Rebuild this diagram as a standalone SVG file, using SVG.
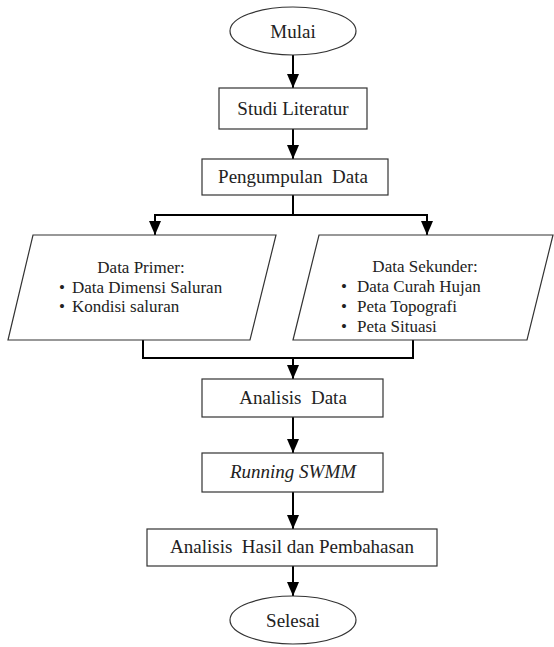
<svg xmlns="http://www.w3.org/2000/svg" width="554" height="647" viewBox="0 0 554 647">
<defs>
<marker id="ah" markerUnits="userSpaceOnUse" markerWidth="14" markerHeight="12" refX="14" refY="6" orient="auto">
<path d="M0,0 L14,6 L0,12 z" fill="#000"/>
</marker>
<style>
.shape{fill:#fff;stroke:#333;stroke-width:1.2}
.conn{fill:none;stroke:#000;stroke-width:2}
text{font-family:'Liberation Serif','Tinos','Times New Roman','DejaVu Serif',serif;fill:#222;white-space:pre}
.t{font-size:19px;text-anchor:middle}
.s{font-size:17px}
.c{text-anchor:middle}
</style>
</defs>
<rect width="554" height="647" fill="#fff"/>
<g id="connectors">
<line class="conn" x1="293" y1="55" x2="293" y2="88" marker-end="url(#ah)"/>
<line class="conn" x1="293" y1="129" x2="293" y2="159" marker-end="url(#ah)"/>
<polyline class="conn" points="293,195 293,215"/>
<polyline class="conn" points="155,215 427,215"/>
<line class="conn" x1="155" y1="214" x2="155" y2="235" marker-end="url(#ah)"/>
<line class="conn" x1="427" y1="214" x2="427" y2="235" marker-end="url(#ah)"/>
<polyline class="conn" points="143,340 143,358 413,358 413,340"/>
<line class="conn" x1="293" y1="358" x2="293" y2="379" marker-end="url(#ah)"/>
<line class="conn" x1="293" y1="417" x2="293" y2="453" marker-end="url(#ah)"/>
<line class="conn" x1="293" y1="492" x2="293" y2="529" marker-end="url(#ah)"/>
<line class="conn" x1="293" y1="566" x2="293" y2="596" marker-end="url(#ah)"/>
</g>
<g id="mulai">
<ellipse class="shape" cx="293" cy="31" rx="63" ry="24"/>
<text class="t" x="293" y="38" font-family="Liberation Serif, serif">Mulai</text>
</g>
<g id="studi">
<rect class="shape" x="219" y="88" width="148" height="41"/>
<text class="t" x="293" y="115">Studi Literatur</text>
</g>
<g id="pengumpulan">
<rect class="shape" x="202" y="159" width="186" height="36"/>
<text class="t" x="293" y="183" xml:space="preserve">Pengumpulan  Data</text>
</g>
<g id="primer">
<polygon class="shape" points="33,235 276,235 250,340 8,340"/>
<text class="s c" x="141" y="273">Data Primer:</text>
<text class="s c" x="62" y="293">•</text>
<text class="s" x="72" y="293">Data Dimensi Saluran</text>
<text class="s c" x="62" y="312">•</text>
<text class="s" x="72" y="312">Kondisi saluran</text>
</g>
<g id="sekunder">
<polygon class="shape" points="319,235 553,235 527,340 293,340"/>
<text class="s c" x="425" y="272">Data Sekunder:</text>
<text class="s c" x="344" y="292">•</text>
<text class="s" x="357" y="292">Data Curah Hujan</text>
<text class="s c" x="344" y="312">•</text>
<text class="s" x="357" y="312">Peta Topografi</text>
<text class="s c" x="344" y="332">•</text>
<text class="s" x="357" y="332">Peta Situasi</text>
</g>
<g id="analisis-data">
<rect class="shape" x="202" y="379" width="181" height="38"/>
<text class="t" x="293" y="404" xml:space="preserve">Analisis  Data</text>
</g>
<g id="running">
<rect class="shape" x="202" y="453" width="181" height="39"/>
<text class="t" x="293" y="478" font-style="italic">Running SWMM</text>
</g>
<g id="analisis-hasil">
<rect class="shape" x="147" y="529" width="290" height="37"/>
<text class="t" x="292" y="553" xml:space="preserve">Analisis  Hasil dan Pembahasan</text>
</g>
<g id="selesai">
<ellipse class="shape" cx="293" cy="620" rx="63" ry="24"/>
<text class="t" x="293" y="627">Selesai</text>
</g>
</svg>
